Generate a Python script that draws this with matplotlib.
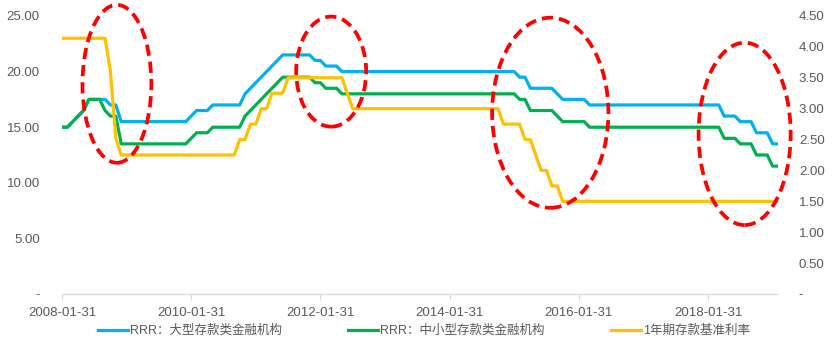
import matplotlib
matplotlib.use("Agg")
import matplotlib.pyplot as plt
from matplotlib.patches import Ellipse

plt.rcParams["font.family"] = ["Liberation Sans", "Noto Sans CJK SC", "DejaVu Sans"]

# month-end values, 2008-01 .. 2019-02
rrr_large = (
    [15, 15, 15.5, 16, 16.5, 17.5, 17.5, 17.5, 17.5, 17, 17, 15.5]          # 2008
    + [15.5] * 12                                                            # 2009
    + [16, 16.5, 16.5, 16.5, 17, 17, 17, 17, 17, 17, 18, 18.5]               # 2010
    + [19, 19.5, 20, 20.5, 21, 21.5, 21.5, 21.5, 21.5, 21.5, 21.5, 21]       # 2011
    + [21, 20.5, 20.5, 20.5, 20, 20, 20, 20, 20, 20, 20, 20]                 # 2012
    + [20] * 24                                                              # 2013-2014
    + [20, 19.5, 19.5, 18.5, 18.5, 18.5, 18.5, 18.5, 18, 17.5, 17.5, 17.5]   # 2015
    + [17.5, 17.5] + [17] * 10                                               # 2016
    + [17] * 12                                                              # 2017
    + [17, 17, 17, 16, 16, 16, 15.5, 15.5, 15.5, 14.5, 14.5, 14.5]           # 2018
    + [13.5, 13.5]                                                           # 2019
)
rrr_small = (
    [15, 15, 15.5, 16, 16.5, 17.5, 17.5, 17.5, 16.5, 16, 16, 13.5]
    + [13.5] * 12
    + [14, 14.5, 14.5, 14.5, 15, 15, 15, 15, 15, 15, 16, 16.5]
    + [17, 17.5, 18, 18.5, 19, 19.5, 19.5, 19.5, 19.5, 19.5, 19.5, 19]
    + [19, 18.5, 18.5, 18.5, 18, 18, 18, 18, 18, 18, 18, 18]
    + [18] * 24
    + [18, 17.5, 17.5, 16.5, 16.5, 16.5, 16.5, 16.5, 16, 15.5, 15.5, 15.5]
    + [15.5, 15.5] + [15] * 10
    + [15] * 12
    + [15, 15, 15, 14, 14, 14, 13.5, 13.5, 13.5, 12.5, 12.5, 12.5]
    + [11.5, 11.5]
)
deposit_1y = (
    [4.14] * 9 + [3.60, 2.52, 2.25]
    + [2.25] * 12
    + [2.25] * 9 + [2.50, 2.50, 2.75]
    + [2.75, 3.00, 3.00, 3.25, 3.25, 3.25] + [3.50] * 6
    + [3.50] * 5 + [3.25] + [3.00] * 6
    + [3.00] * 12
    + [3.00] * 10 + [2.75, 2.75]
    + [2.75, 2.75, 2.50, 2.50, 2.25, 2.00, 2.00, 1.75, 1.75, 1.50, 1.50, 1.50]
    + [1.50] * 36
    + [1.50, 1.50]
)
tick_pos = [0, 24, 48, 72, 96, 120]
tick_labels = ["2008-01-31", "2010-01-31", "2012-01-31", "2014-01-31", "2016-01-31", "2018-01-31"]
labels = ["RRR：大型存款类金融机构", "RRR：中小型存款类金融机构", "1年期存款基准利率"]

# highlight ellipses (center x, center y, width, height) in left-axis data units
circles = [(10.2, 18.9, 12.8, 14.2), (50.0, 20.0, 13.0, 9.9),
           (90.7, 16.3, 21.6, 17.1), (126.8, 14.4, 17.1, 16.4)]

gray = "#595959"
fig = plt.figure(figsize=(8.32, 3.58), dpi=100)
ax = fig.add_axes([62 / 832, 1 - 294 / 358, 716 / 832, 278 / 358])
ax2 = ax.twinx()

x = list(range(len(rrr_large)))
l1, = ax.plot(x, rrr_large, color="#00B0F0", lw=2.3, zorder=2)
l2, = ax.plot(x, rrr_small, color="#00B050", lw=2.3, zorder=3)
l3, = ax2.plot(x, deposit_1y, color="#FFC000", lw=2.3, zorder=4)

ax.set_xlim(0, len(x) - 1)
ax.set_ylim(0, 25)
ax2.set_ylim(0, 4.5)
ax.set_yticks([0, 5, 10, 15, 20, 25])
ax.set_yticklabels(["-", "5.00", "10.00", "15.00", "20.00", "25.00"])
ax2.set_yticks([0, 0.5, 1, 1.5, 2, 2.5, 3, 3.5, 4, 4.5])
ax2.set_yticklabels(["-"] + [f"{v:.2f}" for v in [0.5, 1, 1.5, 2, 2.5, 3, 3.5, 4, 4.5]])
ax.set_xticks(tick_pos)
ax.set_xticklabels(tick_labels)

for a in (ax, ax2):
    for s in ("top", "left", "right"):
        a.spines[s].set_visible(False)
    a.spines["bottom"].set_color("#D9D9D9")
    a.tick_params(colors=gray, labelsize=9.5)
ax.tick_params(axis="y", length=0, pad=16)
ax2.tick_params(axis="y", length=0, pad=15)
ax.tick_params(axis="x", length=4, color="#D9D9D9", pad=5)

# ellipses sit on the top (twin) axes but use the left-axis scale
for cx, cy, w, h in circles:
    e = Ellipse((cx, cy), w, h, fill=False, edgecolor="#FF0000", lw=2.7,
                linestyle=(0, (3, 1.6)), transform=ax.transData,
                clip_on=False, zorder=10)
    ax2.add_patch(e)

fig.legend([l1, l2, l3], labels, loc="center", bbox_to_anchor=(424 / 832, 1 - 331 / 358),
           ncol=3, frameon=False, fontsize=9, handlelength=2.4, handletextpad=0.15,
           columnspacing=5.3, labelcolor=gray)

fig.savefig("out.png", dpi=100)
